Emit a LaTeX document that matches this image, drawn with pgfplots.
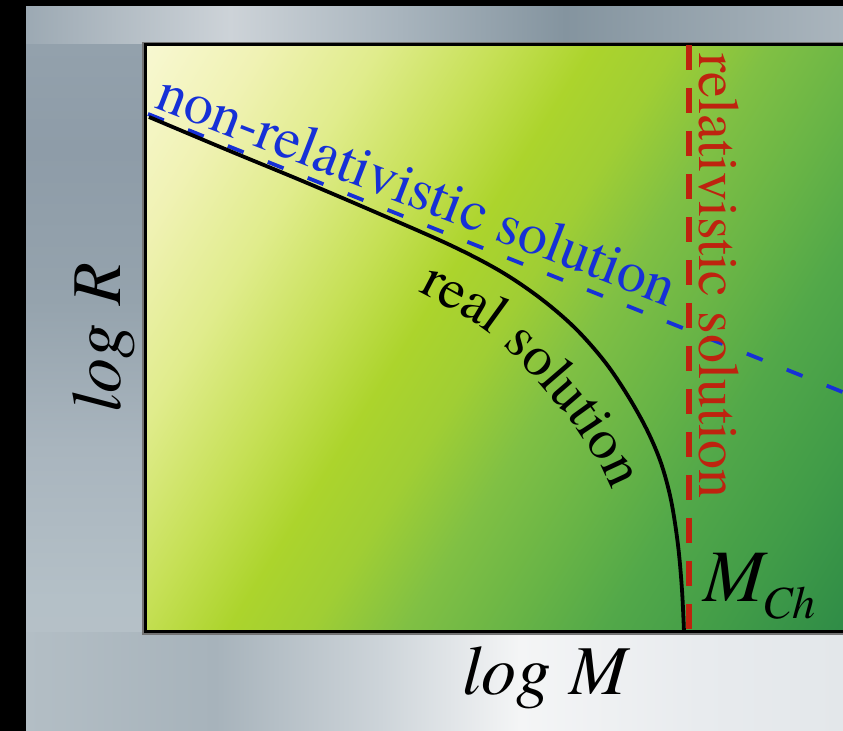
\documentclass[border=0pt]{standalone}
\usepackage{fontspec}
\setmainfont{texgyretermes}[Extension=.otf, UprightFont=*-regular, ItalicFont=*-italic, BoldFont=*-bold, BoldItalicFont=*-bolditalic]
\usepackage{pgfplots}
\pgfplotsset{compat=1.18}
\usetikzlibrary{decorations.text}

\definecolor{bluel}{RGB}{22,48,215}
\definecolor{redl}{RGB}{190,35,15}
% plot-area gradient
\definecolor{g0}{RGB}{248,248,210}
\definecolor{g1}{RGB}{240,242,180}
\definecolor{g2}{RGB}{224,236,140}
\definecolor{g3}{RGB}{198,224,86}
\definecolor{g4}{RGB}{172,212,44}
\definecolor{g5}{RGB}{160,206,52}
\definecolor{g6}{RGB}{128,192,68}
\definecolor{g7}{RGB}{104,180,70}
\definecolor{g8}{RGB}{82,168,73}
\definecolor{g9}{RGB}{65,156,72}
\definecolor{g10}{RGB}{47,140,71}
\definecolor{g11}{RGB}{42,136,70}
% gray strips
\definecolor{t0}{HTML}{9CA9B3}
\definecolor{t1}{HTML}{CDD3D8}
\definecolor{t2}{HTML}{A8B4BD}
\definecolor{t3}{HTML}{84949F}
\definecolor{t4}{HTML}{AAB5BD}
\definecolor{b0}{HTML}{B3BEC5}
\definecolor{b1}{HTML}{A7B3BB}
\definecolor{b2}{HTML}{CDD4D9}
\definecolor{b3}{HTML}{F4F5F6}
\definecolor{b4}{HTML}{E8EBEE}
\definecolor{b5}{HTML}{E3E7EA}
\definecolor{l0}{HTML}{B5C0C7}
\definecolor{l1}{HTML}{B4C0C7}
\definecolor{l2}{HTML}{A9B5BE}
\definecolor{l3}{HTML}{95A3AD}
\definecolor{l4}{HTML}{8E9CA8}
\definecolor{l5}{HTML}{93A1AC}

\pgfdeclarehorizontalshading{plotgrad}{100bp}{color(0bp)=(g0); color(25bp)=(g0); color(30.21bp)=(g1); color(35.42bp)=(g2); color(40.63bp)=(g3); color(44.79bp)=(g4); color(48.44bp)=(g5); color(52.6bp)=(g6); color(57.29bp)=(g7); color(61.46bp)=(g8); color(66.67bp)=(g9); color(72.03bp)=(g10); color(75bp)=(g11); color(100bp)=(g11)}
\pgfdeclarehorizontalshading{topstrip}{100bp}{color(0bp)=(t0); color(25bp)=(t0); color(37.5bp)=(t1); color(47.9bp)=(t2); color(58bp)=(t3); color(75bp)=(t4); color(100bp)=(t4)}
\pgfdeclarehorizontalshading{botstrip}{100bp}{color(0bp)=(b0); color(25bp)=(b0); color(36.6bp)=(b1); color(46.7bp)=(b2); color(55.2bp)=(b3); color(66.2bp)=(b4); color(75bp)=(b5); color(100bp)=(b5)}
\pgfdeclareverticalshading{leftstrip}{100bp}{color(0bp)=(l0); color(25bp)=(l0); color(27.7bp)=(l1); color(40.5bp)=(l2); color(53.3bp)=(l3); color(66.05bp)=(l4); color(75bp)=(l5); color(100bp)=(l5)}

\begin{document}
\begin{tikzpicture}[x=0.5pt,y=0.5pt]
\useasboundingbox (0,0) rectangle (843,731);
\clip (0,0) rectangle (843,731);
% outer black and gray background
\fill[black] (0,0) rectangle (843,731);
\shade[shading=topstrip] (26,686) rectangle (843,724);
\shade[shading=botstrip] (26,0) rectangle (843,99);
\shade[shading=leftstrip] (26,99) rectangle (145,686);
% plot-area gradient
\begin{scope}
\clip (145,99) rectangle (905,686);
\begin{scope}[transform canvas={shift={(72.5pt,343pt)}, rotate=-32}]
\shade[shading=plotgrad] (0,-700) rectangle (960,700);
\end{scope}
\end{scope}
\draw[line width=0.8pt, black!55] (143,97) rectangle (910,688);

\begin{axis}[
  at={(72.5pt,49.5pt)}, anchor=south west,
  scale only axis, width=377.5pt, height=293.5pt,
  xmin=145, xmax=900, ymin=99, ymax=686,
  xtick=\empty, ytick=\empty, major tick length=0pt,
  axis line style={line width=1.5pt, black},
  xlabel={\itshape log M},
  xlabel style={at={(axis cs:545,36)}, anchor=base, inner sep=0pt, font=\fontsize{35}{38}\selectfont},
  ylabel={\itshape log R},
  ylabel style={at={(axis cs:121,393)}, anchor=base, rotate=0, inner sep=0pt, font=\fontsize{35}{38}\selectfont},
]
% non-relativistic solution
\addplot[bluel, line width=1.9pt, dash pattern=on 8.5pt off 13pt] coordinates {(148,617) (900,316)};
% real solution
\addplot[black, line width=1.9pt, smooth, tension=0.55] coordinates {
(149,614) (225,582) (300,551) (375,519) (450,486) (500,460) (540,433) (575,403)
(605,369) (628,335) (647,301) (661,268) (671,231) (678,186) (682,141) (684,99)};
% relativistic solution (Chandrasekhar mass)
\addplot[redl, line width=2.6pt, dash pattern=on 12.5pt off 9pt] coordinates {(689,686) (689,99)};
\end{axis}

% labels on the curves
\node[bluel, font=\fontsize{29}{31}\selectfont, rotate=-21.2, anchor=base west, inner sep=0pt] at (153,624) {non-relativistic solution};
\node[redl, font=\fontsize{29}{31}\selectfont, rotate=-90, anchor=base west, inner sep=0pt] at (699,678) {relativistic solution};
\path[decorate, decoration={text along path, text color=black, text={|\fontsize{28.5}{30}\selectfont|real solution}}]
  plot[smooth] coordinates {(418,439) (450,422) (485,401) (510,379) (530,358) (550,335) (570,311) (590,281) (605,256) (615,231) (622,205)};
\node[anchor=base west, inner sep=0pt, font=\fontsize{37}{40}\selectfont\itshape] at (703,129) {M\kern-0.04em\raisebox{-8.5pt}{\fontsize{23}{25}\selectfont Ch}};
\end{tikzpicture}
\end{document}
